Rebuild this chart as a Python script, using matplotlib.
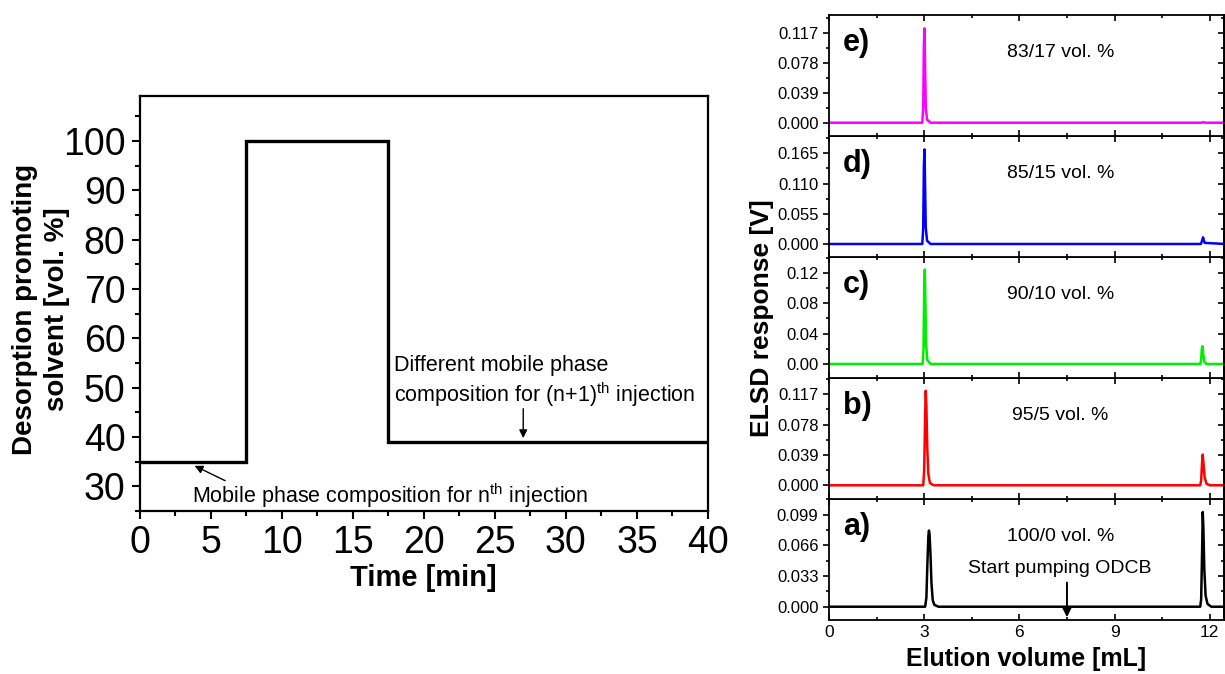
import matplotlib
matplotlib.use('Agg')
import matplotlib.pyplot as plt
from matplotlib.ticker import MultipleLocator, FixedLocator

plt.rcParams['font.family'] = ['Liberation Sans', 'DejaVu Sans']
plt.rcParams['mathtext.fontset'] = 'custom'
plt.rcParams['mathtext.rm'] = 'Liberation Sans'

# Left panel: solvent gradient program
step_time = [0, 7.5, 7.5, 17.5, 17.5, 40]
step_solvent = [35, 35, 100, 100, 39, 39]

# Right panels: ELSD chromatograms (bottom to top)
panel_tags = ['a)', 'b)', 'c)', 'd)', 'e)']
panel_comp = ['100/0 vol. %', '95/5 vol. %', '90/10 vol. %', '85/15 vol. %', '83/17 vol. %']
panel_colors = ['#000000', '#ff0000', '#00ee00', '#0000ff', '#ff00ff']
panel_yticks = [
    [0.000, 0.033, 0.066, 0.099],
    [0.000, 0.039, 0.078, 0.117],
    [0.00, 0.04, 0.08, 0.12],
    [0.000, 0.055, 0.110, 0.165],
    [0.000, 0.039, 0.078, 0.117],
]
panel_ytick_fmt = ['%.3f', '%.3f', '%.2f', '%.3f', '%.3f']
panel_ylim = [(-0.0143, 0.116), (-0.0176, 0.1377), (-0.0185, 0.141),
              (-0.0237, 0.1965), (-0.0174, 0.141)]

trace_x = [
    [0, 3.03, 3.07, 3.1, 3.13, 3.15, 3.17, 3.2, 3.23, 3.27, 3.32, 3.45,
     11.7, 11.73, 11.76, 11.78, 11.8, 11.83, 11.87, 11.93, 12.05, 12.5],
    [0, 2.97, 3.0, 3.03, 3.05, 3.07, 3.1, 3.13, 3.18, 3.3,
     11.7, 11.73, 11.76, 11.78, 11.8, 11.84, 11.9, 12.0, 12.5],
    [0, 2.95, 2.98, 3.0, 3.02, 3.04, 3.06, 3.1, 3.2,
     11.7, 11.73, 11.75, 11.77, 11.79, 11.83, 11.9, 12.5],
    [0, 2.94, 2.97, 2.99, 3.01, 3.03, 3.05, 3.09, 3.2,
     11.72, 11.76, 11.79, 11.84, 12.5],
    [0, 2.94, 2.97, 2.99, 3.01, 3.03, 3.05, 3.09, 3.2,
     11.75, 11.8, 11.85, 12.5],
]
trace_y = [
    [0, 0, 0.01, 0.045, 0.075, 0.082, 0.078, 0.055, 0.025, 0.007, 0.002, 0,
     0, 0.008, 0.06, 0.102, 0.085, 0.04, 0.012, 0.003, 0, 0],
    [0, 0, 0.02, 0.09, 0.1213, 0.1, 0.045, 0.015, 0.003, 0,
     0, 0.006, 0.03, 0.0394, 0.03, 0.01, 0.002, 0, 0],
    [0, 0, 0.02, 0.1, 0.1244, 0.08, 0.025, 0.005, 0,
     0, 0.005, 0.02, 0.0234, 0.015, 0.003, 0, 0],
    [0, 0, 0.03, 0.14, 0.172, 0.1, 0.03, 0.006, 0,
     0, 0.006, 0.012, 0.002, 0],
    [0, 0, 0.02, 0.1, 0.1235, 0.07, 0.02, 0.004, 0,
     0, 0.0008, 0, 0],
]

W, H = 1225, 674
fig = plt.figure(figsize=(W / 100, H / 100), dpi=100, facecolor='white')


def box(l, t, r, b):
    return [l / W, (H - b) / H, (r - l) / W, (b - t) / H]


# ---- left panel ----
ax = fig.add_axes(box(139.5, 95.5, 708, 511))
ax.plot(step_time, step_solvent, color='black', lw=2.4, solid_joinstyle='miter')
ax.set_xlim(0, 40)
ax.set_ylim(25, 109.2)
ax.xaxis.set_major_locator(MultipleLocator(5))
ax.xaxis.set_minor_locator(MultipleLocator(2.5))
ax.yaxis.set_major_locator(FixedLocator([30, 40, 50, 60, 70, 80, 90, 100]))
ax.yaxis.set_minor_locator(MultipleLocator(5))
ax.tick_params(which='both', direction='out', width=1.5, labelsize=27, pad=4)
ax.tick_params(which='major', length=6)
ax.tick_params(which='minor', length=3.5)
for s in ax.spines.values():
    s.set_linewidth(1.6)
ax.set_xlabel('Time [min]', fontsize=21, fontweight='bold', labelpad=2)
ax.set_ylabel('Desorption promoting\nsolvent [vol. %]', fontsize=20, fontweight='bold',
              linespacing=1.33, va='center', ha='center')
ax.yaxis.set_label_coords(-0.173, 0.486)

ax.annotate('', xy=(3.7, 34.4), xytext=(6.2, 30.9),
            arrowprops=dict(arrowstyle='-|>', color='black', lw=1.0, mutation_scale=12))
ax.text(3.7, 28.1, r'Mobile phase composition for n$^{\rm th}$ injection',
        fontsize=15.5, va='center', ha='left')
ax.annotate('', xy=(27, 39.2), xytext=(27, 46.3),
            arrowprops=dict(arrowstyle='-|>', color='black', lw=1.0, mutation_scale=12))
ax.text(17.9, 54.5, 'Different mobile phase', fontsize=15.5, va='center', ha='left')
ax.text(17.9, 48.6, r'composition for (n+1)$^{\rm th}$ injection', fontsize=15.5,
        va='center', ha='left')

# ---- right panels ----
top, bottom = 15, 620
ph = (bottom - top) / 5
axes = []
for i in range(5):
    pb = bottom - i * ph
    pt = pb - ph
    a = fig.add_axes(box(829, pt, 1224, pb))
    axes.append(a)
    a.plot(trace_x[i], trace_y[i], color=panel_colors[i], lw=1.8)
    a.set_xlim(0, 12.45)
    a.set_ylim(*panel_ylim[i])
    yt = panel_yticks[i]
    a.set_yticks(yt)
    a.set_yticklabels([panel_ytick_fmt[i] % v for v in yt])
    a.yaxis.set_minor_locator(MultipleLocator((yt[1] - yt[0]) / 2))
    a.xaxis.set_major_locator(MultipleLocator(3))
    a.xaxis.set_minor_locator(MultipleLocator(1.5))
    a.tick_params(axis='y', which='both', direction='out', labelsize=12, width=1.2, pad=3)
    a.tick_params(axis='y', which='major', length=4.5)
    a.tick_params(axis='y', which='minor', length=2.5)
    a.tick_params(axis='x', which='both', direction='in', top=True, bottom=True,
                  width=1.2, labelsize=12.5)
    a.tick_params(axis='x', which='major', length=4.5)
    a.tick_params(axis='x', which='minor', length=2.5)
    if i > 0:
        a.tick_params(axis='x', labelbottom=False)
    for s in a.spines.values():
        s.set_linewidth(1.3)
    sec = a.secondary_yaxis('right')
    sec.set_yticks(yt)
    sec.yaxis.set_minor_locator(MultipleLocator((yt[1] - yt[0]) / 2))
    sec.tick_params(which='both', direction='in', labelright=False, width=1.2)
    sec.tick_params(which='major', length=4.5)
    sec.tick_params(which='minor', length=2.5)
    sec.spines['right'].set_linewidth(1.3)
    a.text(0.035, 0.77, panel_tags[i], transform=a.transAxes, fontsize=22,
           fontweight='bold', va='center', ha='left')
    a.text(7.3, panel_ylim[i][0] + 0.69 * (panel_ylim[i][1] - panel_ylim[i][0]),
           panel_comp[i], fontsize=14, va='center', ha='center')

axes[0].annotate('', xy=(7.5, -0.0143), xytext=(7.5, 0.029),
                 arrowprops=dict(arrowstyle='-|>', color='black', lw=1.4, mutation_scale=14))
axes[0].text(7.28, 0.0414, 'Start pumping ODCB', fontsize=14, va='center', ha='center')
axes[0].set_xlabel('Elution volume [mL]', fontsize=18, fontweight='bold', labelpad=5)
fig.text(762 / W, 1 - 318 / H, 'ELSD response [V]', rotation=90, fontsize=19,
         fontweight='bold', va='center', ha='center')

fig.savefig('out.png', dpi=100, facecolor='white')
